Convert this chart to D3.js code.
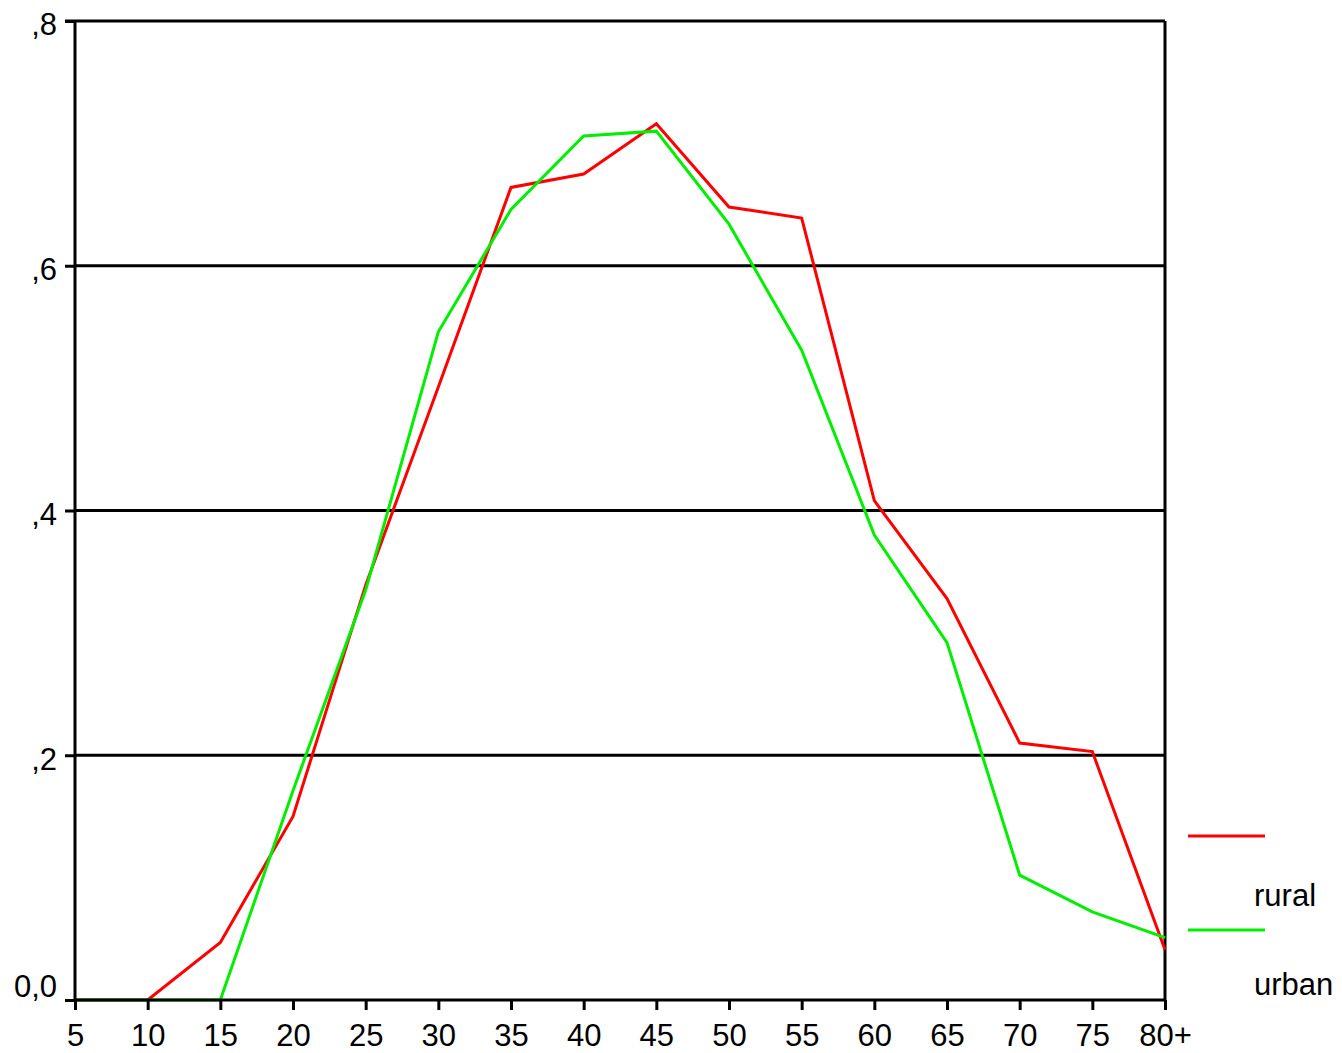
<!DOCTYPE html>
<html>
<head>
<meta charset="utf-8">
<script src="https://cdn.jsdelivr.net/npm/d3@7"></script>
<style>
  body { margin: 0; background: #fff; }
  svg text { font-family: "Liberation Sans", Arial, sans-serif; fill: #000; }
</style>
</head>
<body>
<svg id="chart" width="1342" height="1053"></svg>
<script>
// age groups along the x axis
const ages = ['5', '10', '15', '20', '25', '30', '35', '40', '45', '50', '55', '60', '65', '70', '75', '80+'];
const rural = [0, 0, 0.047, 0.150, 0.339, 0.501, 0.664, 0.675, 0.716, 0.648, 0.639, 0.408, 0.328, 0.210, 0.203, 0.041];
const urban = [0, 0, 0, 0.171, 0.335, 0.546, 0.646, 0.706, 0.710, 0.634, 0.531, 0.380, 0.292, 0.102, 0.072, 0.051];
const yTicks = [0, 0.2, 0.4, 0.6, 0.8];
const yTickLabels = ['0,0', ',2', ',4', ',6', ',8'];

const series = [
  { name: 'rural', values: rural, color: '#ff0000' },
  { name: 'urban', values: urban, color: '#00ee00' }
];

const svg = d3.select('#chart');
const plotLeft = 75, plotRight = 1165, plotTop = 21, plotBottom = 1000;

const x = d3.scalePoint().domain(ages).range([plotLeft, plotRight]);
const y = d3.scaleLinear().domain([0, 0.8]).range([plotBottom, plotTop]);

// horizontal grid lines
svg.append('g')
  .selectAll('line')
  .data(yTicks.filter(d => d > 0 && d < 0.8))
  .enter()
  .append('line')
  .attr('x1', plotLeft).attr('x2', plotRight)
  .attr('y1', d => y(d)).attr('y2', d => y(d))
  .attr('stroke', '#000').attr('stroke-width', 3);

// frame: top and right
svg.append('line').attr('x1', plotLeft - 10).attr('x2', plotRight).attr('y1', plotTop).attr('y2', plotTop)
  .attr('stroke', '#000').attr('stroke-width', 3);
svg.append('line').attr('x1', plotRight).attr('x2', plotRight).attr('y1', plotTop).attr('y2', plotBottom)
  .attr('stroke', '#000').attr('stroke-width', 3);

// data lines
const line = d3.line()
  .x((d, i) => x(ages[i]))
  .y(d => y(d));

svg.append('g')
  .selectAll('path')
  .data(series)
  .enter()
  .append('path')
  .attr('d', d => line(d.values))
  .attr('fill', 'none')
  .attr('stroke', d => d.color)
  .attr('stroke-width', 3)
  .attr('stroke-linejoin', 'miter');

// x axis
const xAxis = svg.append('g')
  .attr('transform', 'translate(0,' + plotBottom + ')')
  .call(d3.axisBottom(x).tickSize(10).tickPadding(14));

// y axis
const yAxis = svg.append('g')
  .attr('transform', 'translate(' + plotLeft + ',0)')
  .call(d3.axisLeft(y).tickValues(yTicks).tickSize(10).tickPadding(8)
    .tickFormat((d, i) => yTickLabels[i]));

[xAxis, yAxis].forEach(function(ax) {
  ax.select('.domain').attr('stroke', '#000').attr('stroke-width', 3);
  ax.selectAll('.tick line').attr('stroke', '#000').attr('stroke-width', 3);
  ax.selectAll('.tick text').style('font-size', '31px').attr('fill', '#000');
});
xAxis.select('.domain').attr('d', 'M' + plotLeft + ',0H' + plotRight);
yAxis.select('.domain').attr('d', 'M0,' + plotTop + 'V' + plotBottom);

// labels sit a little below their tick, the zero label above it
yAxis.selectAll('.tick text')
  .attr('dy', d => d === 0 ? '-0.1em' : '0.45em');

// legend
const legend = svg.append('g');
legend.selectAll('line')
  .data(series)
  .enter()
  .append('line')
  .attr('x1', 1188).attr('x2', 1265)
  .attr('y1', (d, i) => 836 + i * 94).attr('y2', (d, i) => 836 + i * 94)
  .attr('stroke', d => d.color).attr('stroke-width', 3);
legend.selectAll('text')
  .data(series)
  .enter()
  .append('text')
  .attr('x', 1254)
  .attr('y', (d, i) => 906 + i * 89)
  .style('font-size', '31px')
  .text(d => d.name);
</script>
</body>
</html>
